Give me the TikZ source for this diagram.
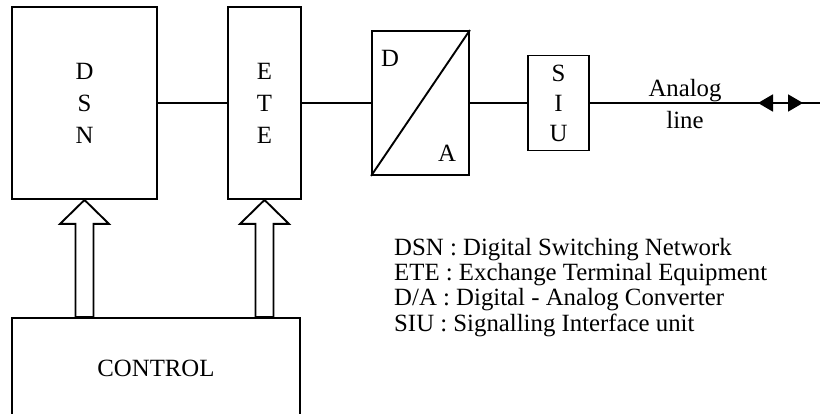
\documentclass[tikz,border=0pt]{standalone}
\usepackage{fontspec}
\setmainfont{Liberation Serif}
\usetikzlibrary{arrows.meta, calc}

\begin{document}
\begin{tikzpicture}[x=1pt, y=-1pt,
    font=\fontsize{24.8}{32}\selectfont,
    box/.style={draw, line width=1.9pt, inner sep=0pt, align=center},
    wire/.style={line width=1.9pt},
    hollow/.style={draw, line width=1.9pt, line join=miter},
    tipstyle/.style={line width=1.9pt, {Triangle[length=15pt, width=17pt]}-{Triangle[length=15pt, width=17pt]}}]
  \useasboundingbox (0,0) rectangle (820,414);
  % blocks
  \node[box, minimum width=145, minimum height=192] (dsn) at (84.5,103) {D\\S\\N};
  \node[box, minimum width=73, minimum height=192] (ete) at (264.5,103) {E\\T\\E};
  \node[box, minimum width=97, minimum height=144] (da) at (420.5,103) {};
  \node[box, minimum width=61, minimum height=95,
        font=\fontsize{24.8}{30}\selectfont] (siu) at (558.5,103) {S\\I\\U};
  \node[box, minimum width=288, minimum height=100] (ctrl) at (156,368) {CONTROL};
  % converter
  \draw[wire] (da.south west) -- (da.north east);
  \node (dlbl) at (390,58) {D};
  \node (albl) at (447,153) {A};
  % signal path
  \coordinate (lineend) at (820,103);
  \coordinate (tipL) at (758,103);
  \coordinate (tipR) at (803,103);
  \draw[wire] (dsn) -- (ete);
  \draw[wire] (ete) -- (da);
  \draw[wire] (da) -- (siu);
  \draw[wire] (siu.east) -- (lineend);
  \draw[tipstyle] (tipL) -- (tipR);
  \node[align=center] (lbl) at (685,104) {Analog\\line};
  % control arrows
  \foreach \b in {dsn,ete}
    \draw[hollow] (\b.south) -- ++(-24.5,24) -- ++(15.5,0) coordinate (sl)
      -- (sl |- ctrl.north) -- ++(18,0) -- ($(sl)+(18,0)$) -- ++(15.5,0) -- cycle;
  % legend
  \foreach \t [count=\i] in {DSN : Digital Switching Network,
      ETE : Exchange Terminal Equipment,
      D/A : Digital - Analog Converter,
      SIU : Signalling Interface unit}
    \node[anchor=base west, inner sep=0pt] (leg\i) at (394,231+25*\i) {\t};
\end{tikzpicture}
\end{document}
